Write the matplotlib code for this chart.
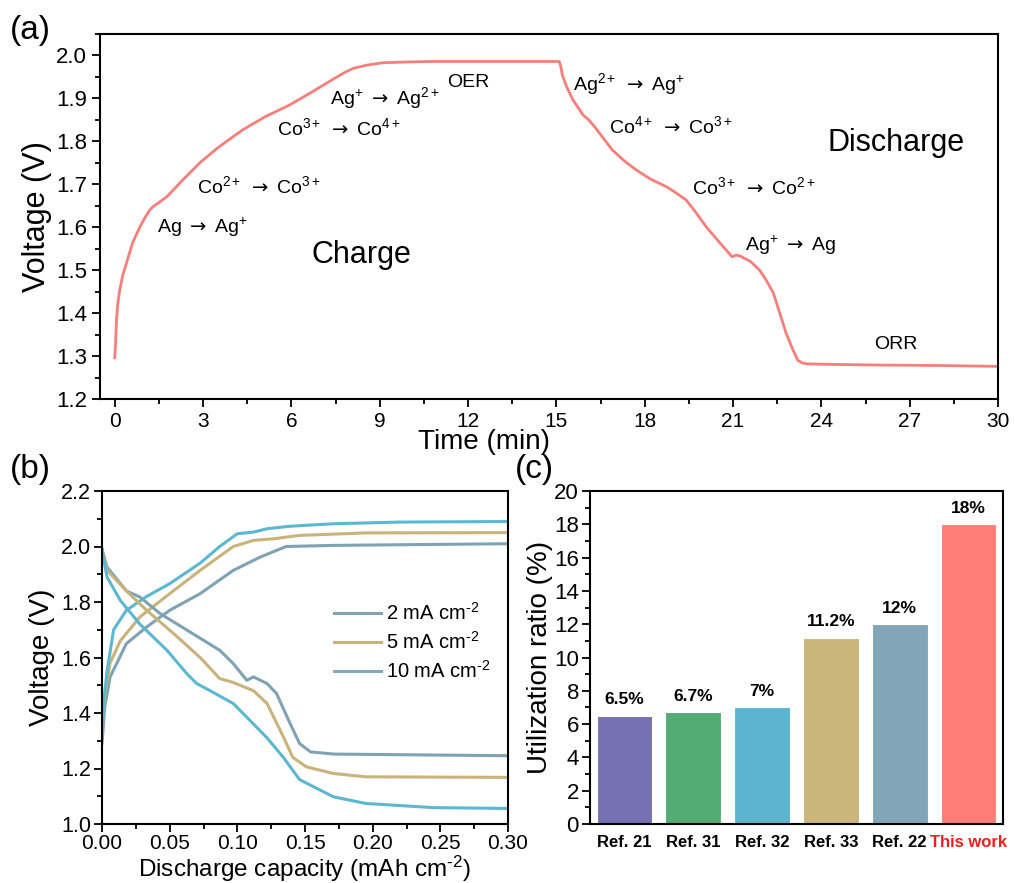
import matplotlib
matplotlib.use("Agg")
import matplotlib.pyplot as plt
from matplotlib.ticker import MultipleLocator
from matplotlib.lines import Line2D

plt.rcParams['font.family'] = ['Liberation Sans', 'DejaVu Sans']
plt.rcParams['mathtext.fontset'] = 'custom'
plt.rcParams['mathtext.rm'] = 'Liberation Sans'
plt.rcParams['mathtext.it'] = 'Liberation Sans:italic'
plt.rcParams['mathtext.bf'] = 'Liberation Sans:bold'
plt.rcParams['mathtext.sf'] = 'DejaVu Sans'
plt.rcParams['mathtext.fallback'] = 'stixsans'

ARROW = r'$\mathsf{\rightarrow}$'

# ---------------- data (a) ----------------
time_a = [0, 0.03, 0.06, 0.1, 0.17, 0.28, 0.4, 0.61, 0.85, 1.05, 1.19, 1.3, 1.45, 1.77,
          2.31, 2.89, 3.5, 4.35, 5.1, 5.95, 6.7, 7.4, 7.8, 8.1, 8.6, 9.1, 10.0, 10.8, 12.0,
          13.5, 15.1, 15.15, 15.2, 15.35, 15.56, 15.9, 16.1, 16.3, 16.9, 17.3, 17.7, 18.2,
          18.75, 19.0, 19.4, 19.7, 20.1, 20.6, 20.97, 21.1, 21.24, 21.6, 21.9, 22.1, 22.37,
          22.8, 23.0, 23.2, 23.35, 23.5, 24.0, 26.0, 28.0, 30.0]
volt_a = [1.296, 1.33, 1.384, 1.42, 1.454, 1.49, 1.517, 1.564, 1.60, 1.625, 1.64, 1.648,
          1.655, 1.671, 1.71, 1.75, 1.785, 1.827, 1.857, 1.885, 1.915, 1.944, 1.96, 1.97,
          1.978, 1.983, 1.985, 1.986, 1.986, 1.986, 1.986, 1.975, 1.955, 1.927, 1.897,
          1.862, 1.85, 1.834, 1.78, 1.755, 1.734, 1.712, 1.694, 1.683, 1.664, 1.638, 1.60,
          1.56, 1.531, 1.535, 1.533, 1.52, 1.50, 1.48, 1.447, 1.354, 1.32, 1.29, 1.284,
          1.282, 1.281, 1.279, 1.278, 1.276]

annot_text = ['Ag ' + ARROW + ' Ag$^{+}$', 'Co$^{2+}$ ' + ARROW + ' Co$^{3+}$',
              'Co$^{3+}$ ' + ARROW + ' Co$^{4+}$', 'Ag$^{+}$ ' + ARROW + ' Ag$^{2+}$', 'OER',
              'Ag$^{2+}$ ' + ARROW + ' Ag$^{+}$', 'Co$^{4+}$ ' + ARROW + ' Co$^{3+}$',
              'Co$^{3+}$ ' + ARROW + ' Co$^{2+}$', 'Ag$^{+}$ ' + ARROW + ' Ag', 'ORR']
annot_t = [1.43, 2.79, 5.5, 7.3, 11.3, 15.56, 16.8, 19.6, 21.4, 25.8]
annot_v = [1.60, 1.696, 1.83, 1.90, 1.936, 1.934, 1.836, 1.694, 1.557, 1.326]

# ---------------- data (b) ----------------
cap_c10 = [0, 0.0015, 0.0037, 0.0086, 0.018, 0.033, 0.05, 0.0725, 0.087, 0.1, 0.112, 0.122,
           0.139, 0.171, 0.22, 0.3]
v_c10 = [1.31, 1.45, 1.55, 1.70, 1.77, 1.82, 1.866, 1.94, 2.0, 2.046, 2.052, 2.064, 2.073,
         2.082, 2.088, 2.09]
cap_c5 = [0, 0.002, 0.006, 0.0135, 0.028, 0.05, 0.0725, 0.097, 0.112, 0.127, 0.146, 0.195, 0.3]
v_c5 = [1.33, 1.46, 1.58, 1.66, 1.746, 1.83, 1.914, 2.0, 2.022, 2.028, 2.04, 2.049, 2.05]
cap_c2 = [0, 0.002, 0.006, 0.018, 0.033, 0.05, 0.0725, 0.097, 0.117, 0.136, 0.171, 0.3]
v_c2 = [1.29, 1.42, 1.53, 1.65, 1.71, 1.77, 1.83, 1.914, 1.962, 2.0, 2.004, 2.01]

cap_d10 = [0, 0.0037, 0.0135, 0.028, 0.048, 0.063, 0.07, 0.08, 0.097, 0.112, 0.122, 0.134,
           0.146, 0.171, 0.195, 0.245, 0.3]
v_d10 = [1.99, 1.89, 1.806, 1.72, 1.626, 1.54, 1.506, 1.48, 1.434, 1.36, 1.31, 1.24, 1.16,
         1.098, 1.074, 1.059, 1.056]
cap_d5 = [0, 0.0037, 0.018, 0.033, 0.053, 0.0725, 0.087, 0.097, 0.112, 0.122, 0.134, 0.141,
          0.151, 0.171, 0.195, 0.3]
v_d5 = [1.99, 1.914, 1.84, 1.77, 1.686, 1.60, 1.524, 1.51, 1.48, 1.434, 1.314, 1.24, 1.206,
        1.182, 1.17, 1.168]
cap_d2 = [0, 0.0037, 0.018, 0.028, 0.043, 0.063, 0.087, 0.097, 0.107, 0.112, 0.122, 0.129,
          0.139, 0.146, 0.154, 0.171, 0.3]
v_d2 = [1.99, 1.926, 1.84, 1.818, 1.758, 1.698, 1.626, 1.578, 1.518, 1.53, 1.506, 1.47,
        1.362, 1.29, 1.26, 1.252, 1.246]

legend_labels = [r'2 mA cm$^{\text{-2}}$', r'5 mA cm$^{\text{-2}}$', r'10 mA cm$^{\text{-2}}$']

# ---------------- data (c) ----------------
refs = ['Ref. 21', 'Ref. 31', 'Ref. 32', 'Ref. 33', 'Ref. 22', 'This work']
ratio = [6.5, 6.7, 7.0, 11.2, 12.0, 18.0]
ratio_labels = ['6.5%', '6.7%', '7%', '11.2%', '12%', '18%']
bar_colors = ['#7671B3', '#53AC74', '#5BB5CF', '#CAB57B', '#82A5B7', '#FF7F78']

# ---------------- figure ----------------
fig = plt.figure(figsize=(10.15, 8.83), dpi=100)
W, H = 1015, 883

def ax_at(l, t, r, b):
    return fig.add_axes([l / W, 1 - b / H, (r - l) / W, (b - t) / H])

def style(ax, lw=1.5):
    for s in ax.spines.values():
        s.set_linewidth(lw)
    ax.tick_params(which='both', direction='out', top=False, right=False, width=1.3)
    ax.tick_params(which='major', length=6)
    ax.tick_params(which='minor', length=3.5)

# (a)
axa = ax_at(100, 34, 998, 399)
style(axa)
axa.plot(time_a, volt_a, color='#F47F7B', lw=2.0)
axa.set_xlim(-0.5, 30)
axa.set_ylim(1.2, 2.05)
axa.xaxis.set_major_locator(MultipleLocator(3))
axa.xaxis.set_minor_locator(MultipleLocator(1.5))
axa.yaxis.set_minor_locator(MultipleLocator(0.05))
axa.set_yticks([1.2, 1.3, 1.4, 1.5, 1.6, 1.7, 1.8, 1.9, 2.0])
axa.set_yticklabels(['1.2', '1.3', '1.4', '1.5', '1.6', '1.7', '1.8', '1.9', '2.0'])
axa.tick_params(axis='y', labelsize=16)
axa.tick_params(axis='x', labelsize=15)
axa.set_xlabel('Time (min)', fontsize=20)
axa.xaxis.set_label_coords(0.428, -0.083)
axa.set_ylabel('Voltage (V)', fontsize=22)
axa.yaxis.set_label_coords(-0.054, 0.5)
for s, t, v in zip(annot_text, annot_t, annot_v):
    axa.text(t, v, s, fontsize=14, ha='left', va='center')
axa.text(6.7, 1.536, 'Charge', fontsize=22, ha='left', va='center')
axa.text(24.2, 1.797, 'Discharge', fontsize=22, ha='left', va='center')
fig.text(10 / W, 1 - 30 / H, '(a)', fontsize=24, va='center', ha='left')

# (b)
axb = ax_at(102, 491, 508, 824)
style(axb)
cyan, tan, gray = '#5BB8D0', '#C9B37B', '#7FA3B3'
axb.plot(cap_c2, v_c2, color=gray, lw=2.2)
axb.plot(cap_c5, v_c5, color=tan, lw=2.2)
axb.plot(cap_c10, v_c10, color=cyan, lw=2.2)
axb.plot(cap_d2, v_d2, color=gray, lw=2.2)
axb.plot(cap_d5, v_d5, color=tan, lw=2.2)
axb.plot(cap_d10, v_d10, color=cyan, lw=2.2)
axb.set_xlim(0, 0.3)
axb.set_ylim(1.0, 2.2)
axb.xaxis.set_minor_locator(MultipleLocator(0.025))
axb.yaxis.set_minor_locator(MultipleLocator(0.1))
axb.set_xticks([0, 0.05, 0.1, 0.15, 0.2, 0.25, 0.3])
axb.set_xticklabels(['0.00', '0.05', '0.10', '0.15', '0.20', '0.25', '0.30'])
axb.set_yticks([1.0, 1.2, 1.4, 1.6, 1.8, 2.0, 2.2])
axb.set_yticklabels(['1.0', '1.2', '1.4', '1.6', '1.8', '2.0', '2.2'])
axb.tick_params(axis='y', labelsize=15.5, pad=2)
axb.tick_params(axis='x', labelsize=15, pad=1)
axb.set_xlabel(r'Discharge capacity (mAh cm$^{\text{-2}}$)', fontsize=17.5, labelpad=0.5)
axb.set_ylabel('Voltage (V)', fontsize=20)
axb.yaxis.set_label_coords(-0.115, 0.5)
handles = [Line2D([], [], color=gray, lw=2.2), Line2D([], [], color=tan, lw=2.2),
           Line2D([], [], color='#86A9B8', lw=2.2)]
axb.legend(handles, legend_labels, loc='upper left', bbox_to_anchor=(0.528, 0.72),
           frameon=False, fontsize=14.5, handlelength=2.3, handletextpad=0.25,
           labelspacing=0.35)
fig.text(10 / W, 1 - 470 / H, '(b)', fontsize=24, va='center', ha='left')

# (c)
axc = ax_at(590, 491, 1003, 824)
style(axc)
x = list(range(len(refs)))
axc.bar(x, ratio, width=0.81, color=bar_colors, edgecolor='white', linewidth=0.8)
axc.set_xlim(-0.5, 5.5)
axc.set_ylim(0, 20)
axc.yaxis.set_major_locator(MultipleLocator(2))
axc.yaxis.set_minor_locator(MultipleLocator(1))
axc.set_xticks(x)
axc.set_xticklabels(refs, fontsize=12, fontweight='bold')
axc.tick_params(axis='x', which='both', length=0, pad=8)
axc.tick_params(axis='y', labelsize=16, pad=2)
axc.get_xticklabels()[-1].set_color('#F01E1E')
for xi, v, lab in zip(x, ratio, ratio_labels):
    axc.text(xi, v + 0.5, lab, ha='center', va='bottom', fontsize=12.5, fontweight='bold')
axc.set_ylabel('Utilization ratio (%)', fontsize=20)
axc.yaxis.set_label_coords(-0.09, 0.5)
fig.text(515 / W, 1 - 470 / H, '(c)', fontsize=24, va='center', ha='left')

fig.savefig('out.png', dpi=100)
